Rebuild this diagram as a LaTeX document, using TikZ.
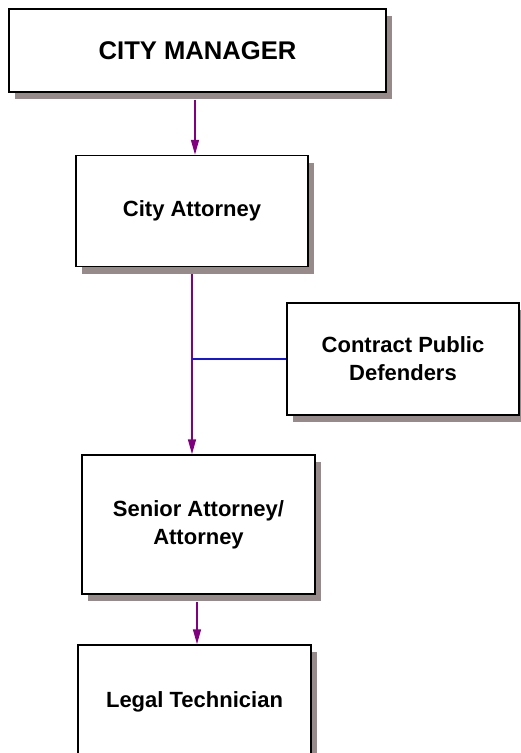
\documentclass[tikz,border=0pt]{standalone}
\usepackage{fontspec}
\setmainfont{Liberation Sans}
\usetikzlibrary{arrows.meta,shadows}
\definecolor{linkpurple}{RGB}{128,0,128}
\definecolor{linkblue}{RGB}{20,20,230}
\definecolor{shadowgray}{RGB}{150,138,138}
\tikzset{
  postbox/.style={draw=black, line width=1.5pt, fill=white, align=center,
    font=\bfseries\fontsize{22}{28}\selectfont,
    drop shadow={shadow xshift=6pt, shadow yshift=-7pt, fill=shadowgray, opacity=1}},
  reports/.style={draw=linkpurple, line width=1.5pt, -{Triangle[length=15pt,width=8pt]}},
  advises/.style={draw=linkblue, line width=1.5pt}
}
\begin{document}
\begin{tikzpicture}[x=1pt, y=-1pt]
  \useasboundingbox (0,0) rectangle (521,753);

  % Draw boxes
  \node[postbox, minimum width=377pt, minimum height=83pt,
    font=\bfseries\fontsize{25.6}{30}\selectfont] (manager) at (197.5,50.5) {CITY MANAGER};
  \node[postbox, minimum width=232pt, minimum height=111pt] (attorney) at (192,211) {City Attorney};
  \node[postbox, minimum width=232pt, minimum height=112pt] (defenders) at (403,359) {Contract Public\\Defenders};
  \node[postbox, minimum width=233pt, minimum height=139pt] (senior) at (198.5,524.5) {Senior Attorney/\\Attorney};
  \node[postbox, minimum width=233pt, minimum height=114pt] (technician) at (194.5,702) {Legal Technician};

  % Draw connectors
  \draw[reports, shorten <=7pt] ([xshift=-2.5pt]manager.south) -- ([xshift=-2.5pt]manager.south |- attorney.north);
  \draw[reports, shorten <=7pt] (attorney.south) -- (attorney.south |- senior.north);
  \draw[advises] (attorney.south |- defenders.west) -- (defenders.west);
  \draw[reports, shorten <=7pt] ([xshift=-1.5pt]senior.south) -- ([xshift=-1.5pt]senior.south |- technician.north);
\end{tikzpicture}
\end{document}
